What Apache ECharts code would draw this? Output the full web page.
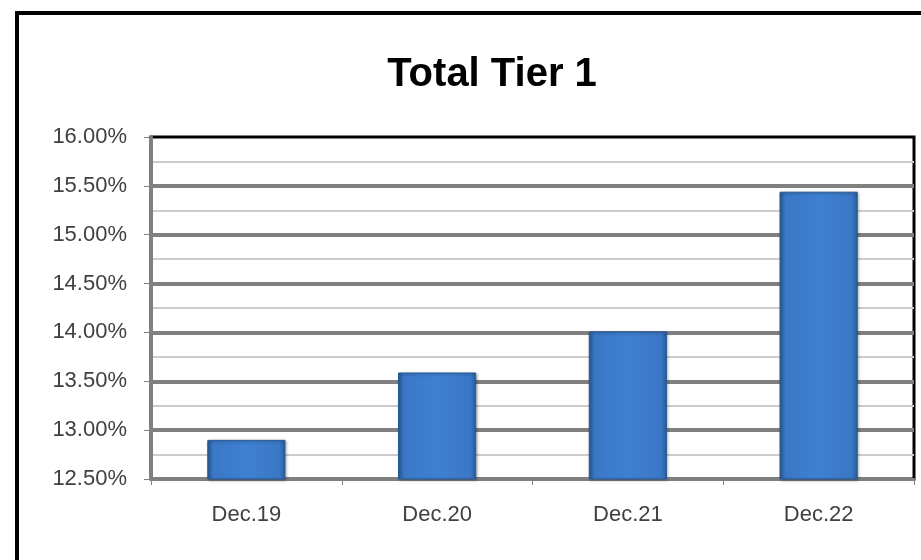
<!DOCTYPE html>
<html>
<head>
<meta charset="utf-8">
<script src="https://cdn.jsdelivr.net/npm/echarts@6/dist/echarts.min.js"></script>
<style>html,body{margin:0;padding:0;background:#fff;}#c{width:921px;height:560px;}</style>
</head>
<body>
<div id="c"></div>
<script>
const categories = ['Dec.19', 'Dec.20', 'Dec.21', 'Dec.22'];
const tier1Values = [12.90, 13.59, 14.01, 15.44];
const yMin = 12.5, yMax = 16.0, yStep = 0.5;
const titleText = 'Total Tier 1';

const chart = echarts.init(document.getElementById('c'), null, {renderer: 'canvas'});
const barGrad = new echarts.graphic.LinearGradient(0, 0, 1, 0, [
  {offset: 0, color: '#2b5c9c'},
  {offset: 0.08, color: '#3a78c6'},
  {offset: 0.5, color: '#3f80d2'},
  {offset: 0.92, color: '#3a78c6'},
  {offset: 1, color: '#2b5c9c'}
]);
chart.setOption({
  animation: false,
  backgroundColor: '#fff',
  title: {
    text: titleText, left: 487, top: 50, textAlign: 'center',
    textStyle: {fontFamily: 'Liberation Sans', fontWeight: 'bold', fontSize: 40, color: '#000'}
  },
  grid: {left: 151, right: 7, top: 137, bottom: 81, show: true, borderColor: '#000', borderWidth: 3, backgroundColor: 'transparent'},
  xAxis: {
    type: 'category', data: categories,
    axisLine: {show: true, lineStyle: {color: '#808080', width: 3}},
    axisTick: {show: true, length: 6, lineStyle: {color: '#808080', width: 1}},
    axisLabel: {margin: 25, fontFamily: 'Liberation Sans', fontSize: 22, color: '#404040'},
    splitLine: {show: false}
  },
  yAxis: {
    type: 'value', min: yMin, max: yMax, interval: yStep,
    axisLine: {show: true, lineStyle: {color: '#808080', width: 3}},
    axisTick: {show: true, length: 7, lineStyle: {color: '#808080', width: 1}},
    axisLabel: {margin: 24, fontFamily: 'Liberation Sans', fontSize: 22, color: '#404040',
      formatter: v => v.toFixed(2) + '%'},
    splitLine: {show: true, showMaxLine: false, showMinLine: false, lineStyle: {color: '#808080', width: 4}},
    minorTick: {show: false, splitNumber: 2},
    minorSplitLine: {show: true, lineStyle: {color: '#cccccc', width: 2}}
  },
  series: [{
    type: 'bar', data: tier1Values, barWidth: '41%',
    itemStyle: {color: barGrad, borderColor: '#2a5a98', borderWidth: 1,
      shadowColor: 'rgba(0,0,0,0.35)', shadowBlur: 3, shadowOffsetX: 1, shadowOffsetY: 1},
    z: 3
  }],
  graphic: [{
    type: 'rect', shape: {x: 17, y: 13, width: 960, height: 620},
    style: {fill: null, stroke: '#000', lineWidth: 4}, z: 100, silent: true
  }]
});
</script>
</body>
</html>
